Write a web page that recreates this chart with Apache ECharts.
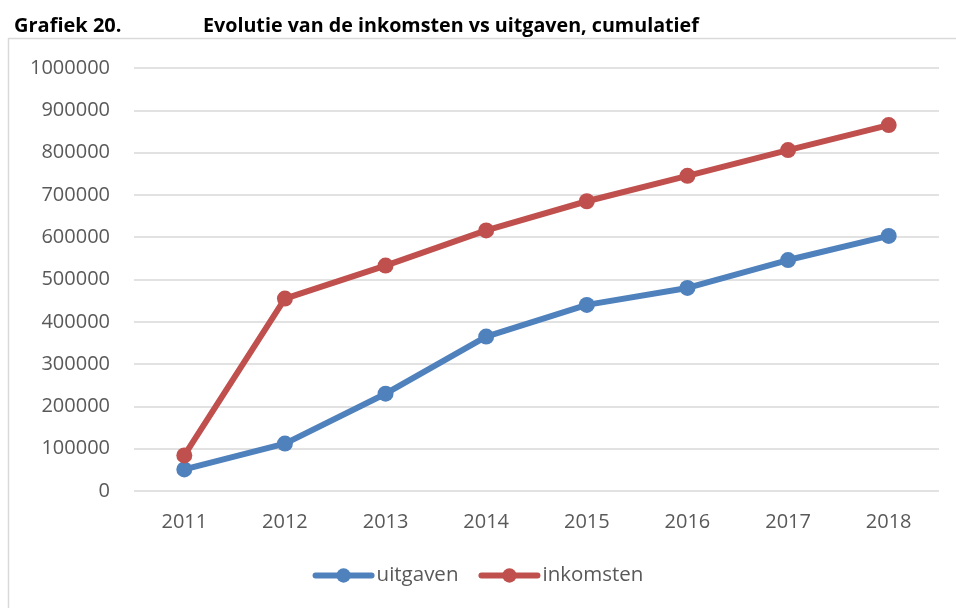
<!DOCTYPE html>
<html>
<head>
<meta charset="utf-8">
<script src="https://cdn.jsdelivr.net/npm/echarts@6/dist/echarts.min.js"></script>
<style>
  html, body { margin: 0; padding: 0; background: #fff; }
  #chart { width: 956px; height: 608px; }
</style>
</head>
<body>
<div id="chart"></div>
<script>
// jaren op de x-as
const years = ['2011', '2012', '2013', '2014', '2015', '2016', '2017', '2018'];
// cumulatieve bedragen
const uitgaven = [51000, 112000, 230000, 365000, 440000, 480000, 546000, 603000];
const inkomsten = [84000, 455000, 533000, 616000, 685000, 745000, 806000, 865000];

const font = '"Open Sans", "DejaVu Sans", sans-serif';
const grey = '#595959';

const chart = echarts.init(document.getElementById('chart'));
chart.setOption({
  animation: false,
  textStyle: { fontFamily: font },
  title: [
    {
      text: 'Grafiek 20.',
      left: 9, top: 11,
      textStyle: { fontSize: 20, fontWeight: 'bold', color: '#000', fontFamily: font }
    },
    {
      text: 'Evolutie van de inkomsten vs uitgaven, cumulatief',
      left: 198, top: 11,
      textStyle: { fontSize: 19.7, fontWeight: 'bold', color: '#000', fontFamily: font }
    }
  ],
  graphic: [
    { type: 'line', shape: { x1: 8, y1: 38.5, x2: 956, y2: 38.5 }, style: { stroke: '#D9D9D9', lineWidth: 1.5 } },
    { type: 'line', shape: { x1: 8.5, y1: 38, x2: 8.5, y2: 608 }, style: { stroke: '#D9D9D9', lineWidth: 1.5 } }
  ],
  legend: {
    bottom: 17,
    left: 'center',
    itemWidth: 56,
    itemHeight: 18,
    itemGap: 20,
    lineStyle: { width: 6, cap: 'round' },
    textStyle: { fontSize: 20.5, color: grey },
    data: ['uitgaven', 'inkomsten']
  },
  grid: { left: 134, right: 17, top: 68, bottom: 117 },
  xAxis: {
    type: 'category',
    data: years,
    boundaryGap: true,
    axisLine: { show: false },
    axisTick: { show: false },
    axisLabel: { fontSize: 20, color: grey, margin: 21 }
  },
  yAxis: {
    type: 'value',
    min: 0, max: 1000000, interval: 100000,
    axisLine: { show: false },
    axisTick: { show: false },
    axisLabel: { fontSize: 20, color: grey, margin: 24, formatter: v => String(v) },
    splitLine: { lineStyle: { color: '#D9D9D9', width: 1.5 } }
  },
  series: [
    {
      name: 'uitgaven', type: 'line', data: uitgaven,
      color: '#4F81BD',
      symbol: 'circle', symbolSize: 16,
      lineStyle: { width: 6, cap: 'round', join: 'round' }
    },
    {
      name: 'inkomsten', type: 'line', data: inkomsten,
      color: '#C0504D',
      symbol: 'circle', symbolSize: 16,
      lineStyle: { width: 6, cap: 'round', join: 'round' }
    }
  ]
});
</script>
</body>
</html>
